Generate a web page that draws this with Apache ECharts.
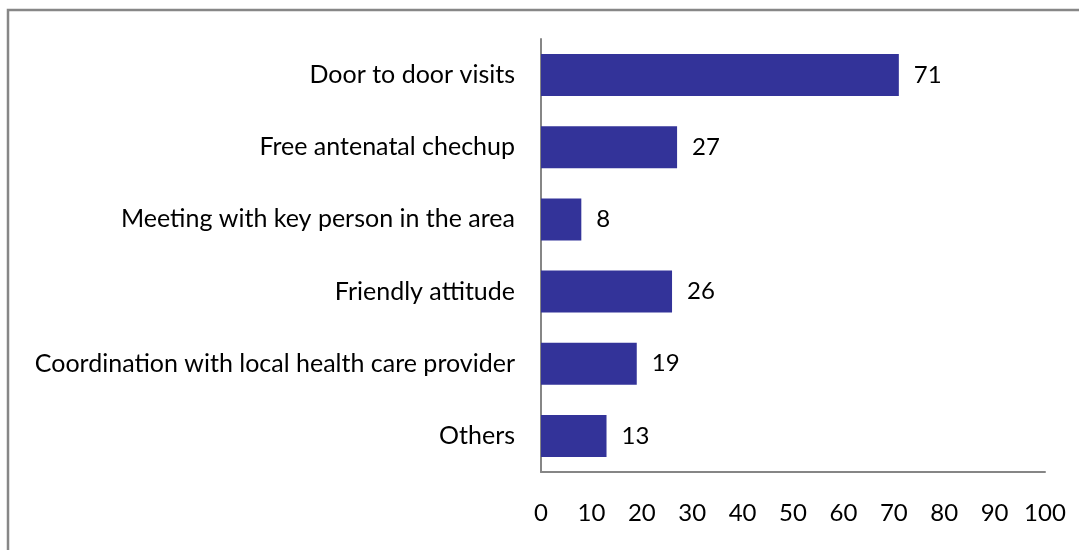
<!DOCTYPE html>
<html>
<head>
<meta charset="utf-8">
<script src="https://cdn.jsdelivr.net/npm/echarts@6/dist/echarts.min.js"></script>
<style>
html,body{margin:0;padding:0;background:#fff;}
#main{width:1079px;height:550px;}
</style>
</head>
<body>
<div id="main"></div>
<script>
var categories = [
  "Door to door visits",
  "Free antenatal chechup",
  "Meeting with key person in the area",
  "Friendly attitude",
  "Coordination with local health care provider",
  "Others"
];
var values = [71, 27, 8, 26, 19, 13];
var xTicks = [0, 10, 20, 30, 40, 50, 60, 70, 80, 90, 100];

var FONT = "Lato";
var chart = echarts.init(document.getElementById('main'), null, {renderer: 'canvas'});
chart.setOption({
  animation: false,
  backgroundColor: '#ffffff',
  graphic: [{
    type: 'rect',
    shape: {x: 8, y: 10, width: 1200, height: 700},
    style: {fill: 'none', stroke: '#878787', lineWidth: 2.5},
    silent: true
  }],
  grid: {left: 541, right: 34, top: 39, bottom: 78, containLabel: false},
  xAxis: {
    type: 'value',
    min: xTicks[0],
    max: xTicks[xTicks.length - 1],
    interval: 10,
    splitLine: {show: false},
    axisLine: {show: true, lineStyle: {color: '#868686', width: 2}},
    axisTick: {show: false},
    axisLabel: {color: '#000', fontFamily: FONT, fontSize: 24, margin: 29}
  },
  yAxis: {
    type: 'category',
    inverse: true,
    data: categories,
    axisLine: {show: true, lineStyle: {color: '#868686', width: 2}},
    axisTick: {show: false},
    axisLabel: {color: '#000', fontFamily: FONT, fontSize: 25, margin: 26}
  },
  series: [{
    type: 'bar',
    data: values,
    barWidth: 42,
    itemStyle: {color: '#333399'},
    label: {show: true, position: 'right', distance: 15, color: '#000', fontFamily: FONT, fontSize: 24}
  }]
});
</script>
</body>
</html>
